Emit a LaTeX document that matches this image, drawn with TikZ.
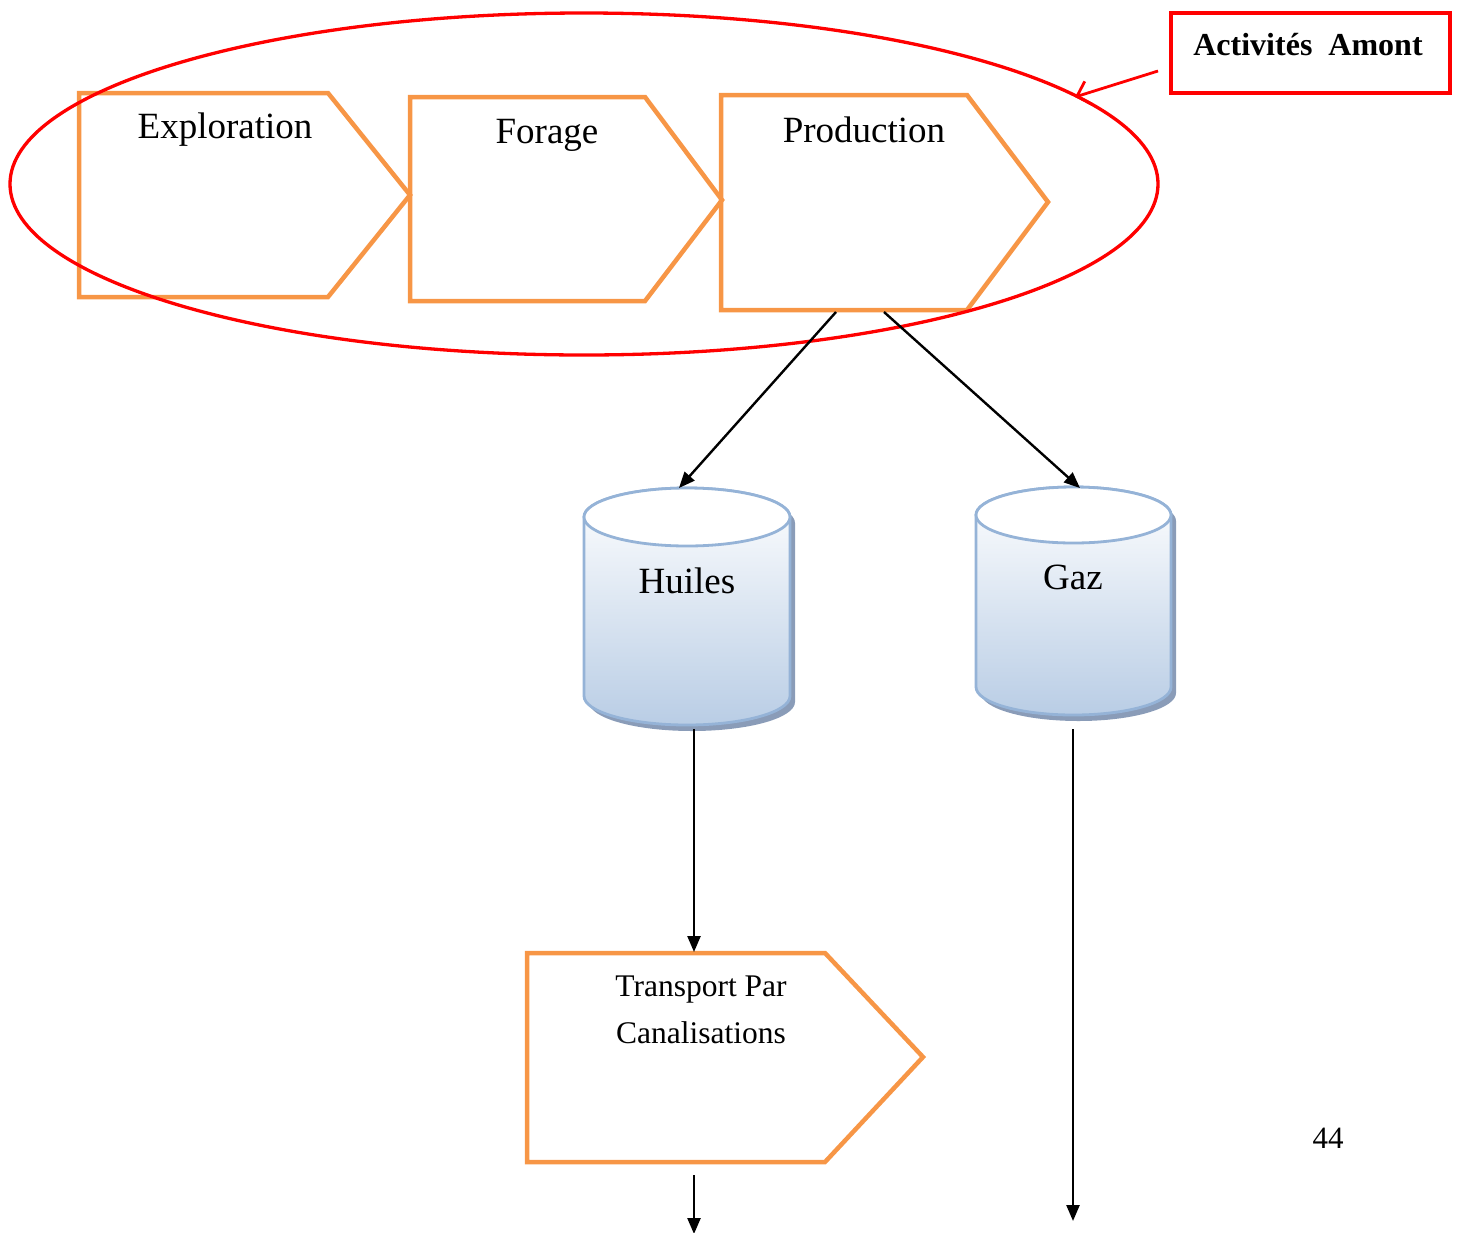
\documentclass[tikz,border=0pt]{standalone}
\usepackage{fontspec}
\setmainfont{Liberation Serif}
\usetikzlibrary{arrows.meta}
\definecolor{chevronorange}{RGB}{247,150,70}
\definecolor{amontred}{RGB}{255,0,0}
\definecolor{tankedge}{RGB}{149,179,215}
\definecolor{tanklow}{RGB}{185,205,229}
\definecolor{tankshadow}{RGB}{138,156,184}
\tikzset{
  chevron/.style={draw=chevronorange, line width=4.5pt, line join=miter},
  chevlabel/.style={inner sep=0pt, font=\fontsize{37}{44}\selectfont},
  flow/.style={draw=black, line width=2.4pt, -{Triangle[length=16pt,width=13pt]}},
  tankbody/.style={draw=tankedge, line width=2.8pt, top color=white, bottom color=tanklow},
  tanktop/.style={draw=tankedge, line width=2.8pt, fill=white},
  tankshade/.style={fill=tankshadow},
  tanklabel/.style={inner sep=0pt, font=\fontsize{37}{44}\selectfont},
}
\begin{document}
\begin{tikzpicture}[x=1pt,y=-1pt]
\useasboundingbox (0,0) rectangle (1458,1232);

% upstream chain
\draw[chevron] (79,93) -- (328,93) -- (410,195) -- (328,297) -- (79,297) -- cycle;
\draw[chevron] (410,97) -- (645,97) -- (722,200) -- (645,301) -- (410,301) -- cycle;
\draw[chevron] (721,95) -- (967,95) -- (1048,202) -- (967,310) -- (721,310) -- cycle;
\node[chevlabel] (explo) at (225,130) {Exploration};
\node[chevlabel] (forage) at (547,135) {Forage};
\node[chevlabel] (prod) at (864,130) {Production};

% ring around the upstream activities
\draw[amontred, line width=3.3pt] (584,184) ellipse [x radius=574pt, y radius=171pt];
\node[draw=amontred, line width=3.5pt, minimum width=279pt, minimum height=80pt, inner sep=0pt] (amont) at (1310.5,53) {};
\node[inner sep=0pt, font=\bfseries\fontsize{32}{38}\selectfont] (amonttxt) at (1308,45) {Activités\ \ Amont};
\coordinate (amontfoot) at (1158,71);
\coordinate (ringhit) at (1075,97);
\draw[amontred, line width=2.8pt, -{Straight Barb[length=12pt,width=24pt,line width=2.8pt]}] (amontfoot) -- (ringhit);

% storage tanks
\fill[tankshade, shift={(5,6)}] (584,517) -- (584,696) arc[start angle=180,end angle=360,x radius=103pt,y radius=29pt] -- (790,517) arc[start angle=0,end angle=180,x radius=103pt,y radius=29pt] -- cycle;
\path[tankbody] (584,517) -- (584,696) arc[start angle=180,end angle=360,x radius=103pt,y radius=29pt] -- (790,517) arc[start angle=0,end angle=180,x radius=103pt,y radius=29pt] -- cycle;
\draw[tanktop] (687,517) ellipse [x radius=103pt, y radius=29pt];
\node[tanklabel] (huiles) at (687,581) {Huiles};

\fill[tankshade, shift={(5,6)}] (976,515) -- (976,687) arc[start angle=180,end angle=360,x radius=97.5pt,y radius=28pt] -- (1171,515) arc[start angle=0,end angle=180,x radius=97.5pt,y radius=28pt] -- cycle;
\path[tankbody] (976,515) -- (976,687) arc[start angle=180,end angle=360,x radius=97.5pt,y radius=28pt] -- (1171,515) arc[start angle=0,end angle=180,x radius=97.5pt,y radius=28pt] -- cycle;
\draw[tanktop] (1073.5,515) ellipse [x radius=97.5pt, y radius=28pt];
\node[tanklabel] (gaz) at (1073,577) {Gaz};

% transport stage
\draw[chevron] (527,953) -- (825,953) -- (923,1057) -- (825,1162) -- (527,1162) -- cycle;
\node[inner sep=0pt, align=center, font=\fontsize{31.5}{47}\selectfont] (transport) at (701,1010) {Transport Par\\Canalisations};

% page number
\node[inner sep=0pt, font=\fontsize{31}{36}\selectfont] (page) at (1328,1138) {44};

% flows
\coordinate (prodA) at (836,312);
\coordinate (prodB) at (884,312);
\coordinate (huilesTop) at (679,488);
\coordinate (gazTop) at (1080,488);
\coordinate (huilesFoot) at (694,729);
\coordinate (transTop) at (694,952);
\coordinate (transFoot) at (694,1175);
\coordinate (transOut) at (694,1234);
\coordinate (gazFoot) at (1073,729);
\coordinate (gazOut) at (1073,1221);
\draw[flow] (prodA) -- (huilesTop);
\draw[flow] (prodB) -- (gazTop);
\draw[flow] (huilesFoot) -- (transTop);
\draw[flow] (transFoot) -- (transOut);
\draw[flow] (gazFoot) -- (gazOut);
\end{tikzpicture}
\end{document}
